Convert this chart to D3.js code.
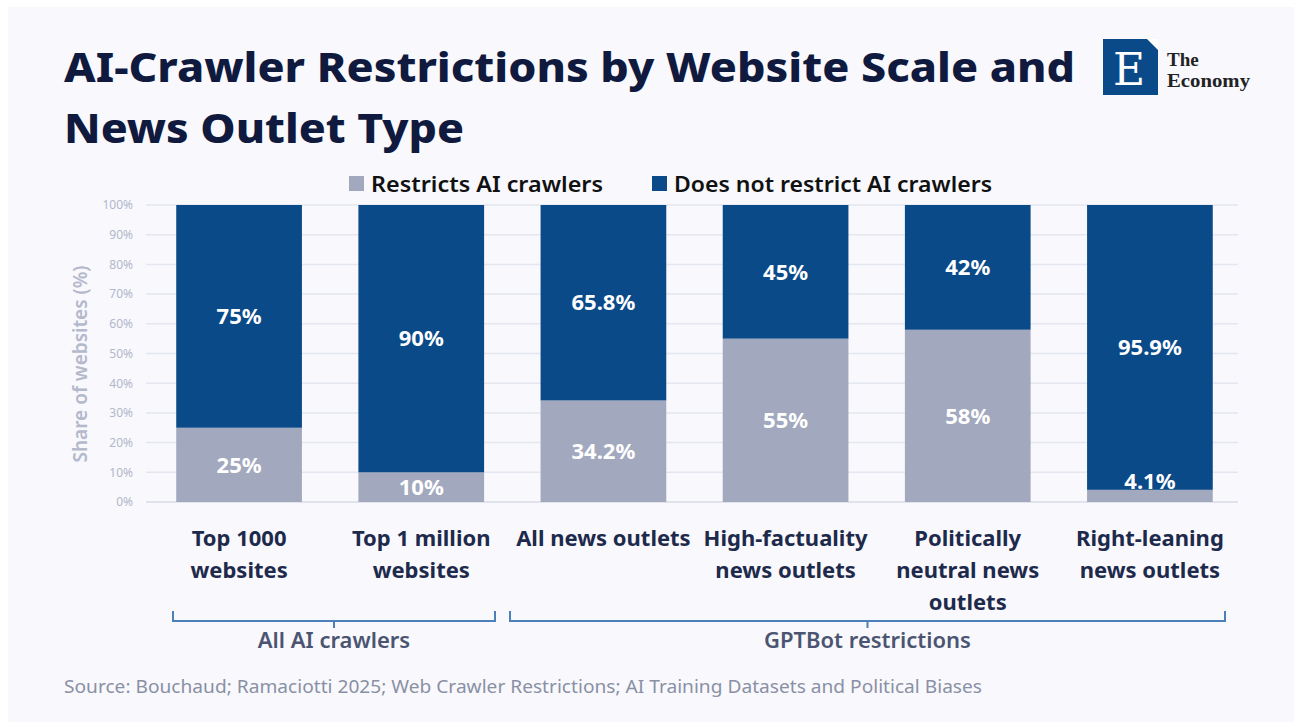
<!DOCTYPE html>
<html>
<head>
<meta charset="utf-8">
<script src="https://cdn.jsdelivr.net/npm/d3@7"></script>
<style>
  body { margin: 0; background: #ffffff; }
  svg text { font-family: "Noto Sans", "Open Sans", sans-serif; }
</style>
</head>
<body>
<div id="chart"></div>
<script>
// data
var categories = ["Top 1000 websites", "Top 1 million websites", "All news outlets",
                  "High-factuality news outlets", "Politically neutral news outlets", "Right-leaning news outlets"];
var catLines = [["Top 1000", "websites"], ["Top 1 million", "websites"], ["All news outlets"],
                ["High-factuality", "news outlets"], ["Politically", "neutral news", "outlets"],
                ["Right-leaning", "news outlets"]];
var restricts = [25, 10, 34.2, 55, 58, 4.1];
var notRestrict = [75, 90, 65.8, 45, 42, 95.9];
var restrictLabels = ["25%", "10%", "34.2%", "55%", "58%", "4.1%"];
var notRestrictLabels = ["75%", "90%", "65.8%", "45%", "42%", "95.9%"];
var seriesNames = ["Restricts AI crawlers", "Does not restrict AI crawlers"];
var yTicks = [0, 10, 20, 30, 40, 50, 60, 70, 80, 90, 100];
var groups = [{name: "All AI crawlers", from: 0, to: 1}, {name: "GPTBot restrictions", from: 2, to: 5}];

var W = 1294, H = 722;
var colors = ["#A2A9BE", "#0B4A89"];

var svg = d3.select("#chart").append("svg")
  .attr("width", W).attr("height", H);

// background panel
svg.append("rect").attr("x", 8).attr("y", 7).attr("width", W - 8).attr("height", H - 7)
  .attr("fill", "#F8F8FD");

// title
svg.append("text").attr("x", 64).attr("y", 82)
  .attr("font-size", 41).attr("font-weight", 800).attr("fill", "#0F1A3E")
  .attr("textLength", 1011).attr("lengthAdjust", "spacingAndGlyphs")
  .text("AI-Crawler Restrictions by Website Scale and");
svg.append("text").attr("x", 64).attr("y", 143)
  .attr("font-size", 41).attr("font-weight", 800).attr("fill", "#0F1A3E")
  .attr("textLength", 400).attr("lengthAdjust", "spacingAndGlyphs")
  .text("News Outlet Type");

// logo
var logo = svg.append("g").attr("transform", "translate(1103,39)");
logo.append("rect").attr("width", 55).attr("height", 56).attr("fill", "#0B4A89");
logo.append("path").attr("d", "M44,0 L55,0 L55,11 Z").attr("fill", "#ffffff");
logo.append("text").attr("x", 26).attr("y", 46).attr("text-anchor", "middle")
  .attr("font-size", 44).attr("fill", "#ffffff")
  .style("font-family", "'DejaVu Serif', 'Liberation Serif', serif").text("E");
logo.append("text").attr("x", 64).attr("y", 27).attr("font-size", 19).attr("font-weight", 700).attr("fill", "#222")
  .style("font-family", "'Liberation Serif', serif").text("The");
logo.append("text").attr("x", 64).attr("y", 48).attr("font-size", 19).attr("font-weight", 700).attr("fill", "#222")
  .attr("textLength", 83).attr("lengthAdjust", "spacingAndGlyphs")
  .style("font-family", "'Liberation Serif', serif").text("Economy");

// scales
var x = d3.scaleBand().domain(categories).range([148, 1241]).paddingInner(0.31).paddingOuter(0.155);
var y = d3.scaleLinear().domain([0, 100]).range([502, 205]);

// grid
svg.append("g").selectAll("line").data(yTicks).enter().append("line")
  .attr("x1", 146).attr("x2", 1238)
  .attr("y1", function(d) { return y(d); }).attr("y2", function(d) { return y(d); })
  .attr("stroke", function(d) { return d === 0 ? "#D9DCE6" : "#E4E7EF"; })
  .attr("stroke-width", 1.5);

// y axis
var yAxis = svg.append("g").attr("transform", "translate(136,0)")
  .call(d3.axisLeft(y).tickValues(yTicks).tickSize(0).tickPadding(3).tickFormat(function(d) { return d + "%"; }));
yAxis.select(".domain").remove();
yAxis.selectAll("text").attr("font-size", 12).attr("fill", "#B2B7C9")
  .style("font-family", "'Noto Sans', sans-serif");

svg.append("text").attr("transform", "translate(87,364) rotate(-90)")
  .attr("text-anchor", "middle").attr("font-size", 19).attr("font-weight", 600)
  .attr("fill", "#B4B9CB").text("Share of websites (%)");

// stacked data
var rows = categories.map(function(c, i) {
  return {cat: c, r: restricts[i], n: notRestrict[i], rl: restrictLabels[i], nl: notRestrictLabels[i]};
});
var stack = d3.stack().keys(["r", "n"])(rows);

var layer = svg.append("g").selectAll("g").data(stack).enter().append("g")
  .attr("fill", function(d, i) { return colors[i]; });
layer.selectAll("rect").data(function(d) { return d; }).enter().append("rect")
  .attr("x", function(d) { return x(d.data.cat); })
  .attr("width", x.bandwidth())
  .attr("y", function(d) { return y(d[1]); })
  .attr("height", function(d) { return y(d[0]) - y(d[1]); });

// value labels
stack.forEach(function(s, si) {
  svg.append("g").selectAll("text").data(s).enter().append("text")
    .attr("x", function(d) { return x(d.data.cat) + x.bandwidth() / 2; })
    .attr("y", function(d) {
      var h = y(d[0]) - y(d[1]);
      if (h < 20) return y(d[1]) - 9;
      return (y(d[0]) + y(d[1])) / 2;
    })
    .attr("dy", "0.35em").attr("text-anchor", "middle")
    .attr("font-size", 22).attr("font-weight", 700).attr("fill", "#ffffff")
    .text(function(d) { return si === 0 ? d.data.rl : d.data.nl; });
});

// category labels
catLines.forEach(function(lines, i) {
  var t = svg.append("text").attr("text-anchor", "middle")
    .attr("x", x(categories[i]) + x.bandwidth() / 2).attr("y", 546)
    .attr("font-size", 22).attr("font-weight", 700).attr("fill", "#1E2A4B");
  lines.forEach(function(l, j) {
    t.append("tspan").attr("x", x(categories[i]) + x.bandwidth() / 2)
      .attr("dy", j === 0 ? 0 : 32).text(l);
  });
});

// group brackets
var bx = [[173, 495], [510, 1225]];
groups.forEach(function(g, i) {
  var x0 = bx[i][0], x1 = bx[i][1], yb = 621, mid = (x0 + x1) / 2;
  svg.append("path")
    .attr("d", "M" + x0 + "," + (yb - 10) + " L" + x0 + "," + yb + " L" + x1 + "," + yb + " L" + x1 + "," + (yb - 10)
      + " M" + mid + "," + yb + " L" + mid + "," + (yb + 7))
    .attr("fill", "none").attr("stroke", "#4D7FB8").attr("stroke-width", 2);
  svg.append("text").attr("x", mid).attr("y", 648).attr("text-anchor", "middle")
    .attr("font-size", 22).attr("font-weight", 600).attr("fill", "#4B5571").text(g.name);
});

// legend
var legX = [349, 652];
var legW = [232, 318];
seriesNames.forEach(function(n, i) {
  svg.append("rect").attr("x", legX[i]).attr("y", 176).attr("width", 15).attr("height", 15)
    .attr("fill", colors[i]);
  svg.append("text").attr("x", legX[i] + 22).attr("y", 192)
    .attr("font-size", 22).attr("font-weight", 600).attr("fill", "#111")
    .attr("textLength", legW[i]).attr("lengthAdjust", "spacingAndGlyphs")
    .text(n);
});

// source
svg.append("text").attr("x", 64).attr("y", 693).attr("font-size", 18).attr("fill", "#8A90A4")
  .attr("textLength", 918).attr("lengthAdjust", "spacingAndGlyphs")
  .text("Source: Bouchaud; Ramaciotti 2025; Web Crawler Restrictions; AI Training Datasets and Political Biases");
</script>
</body>
</html>
